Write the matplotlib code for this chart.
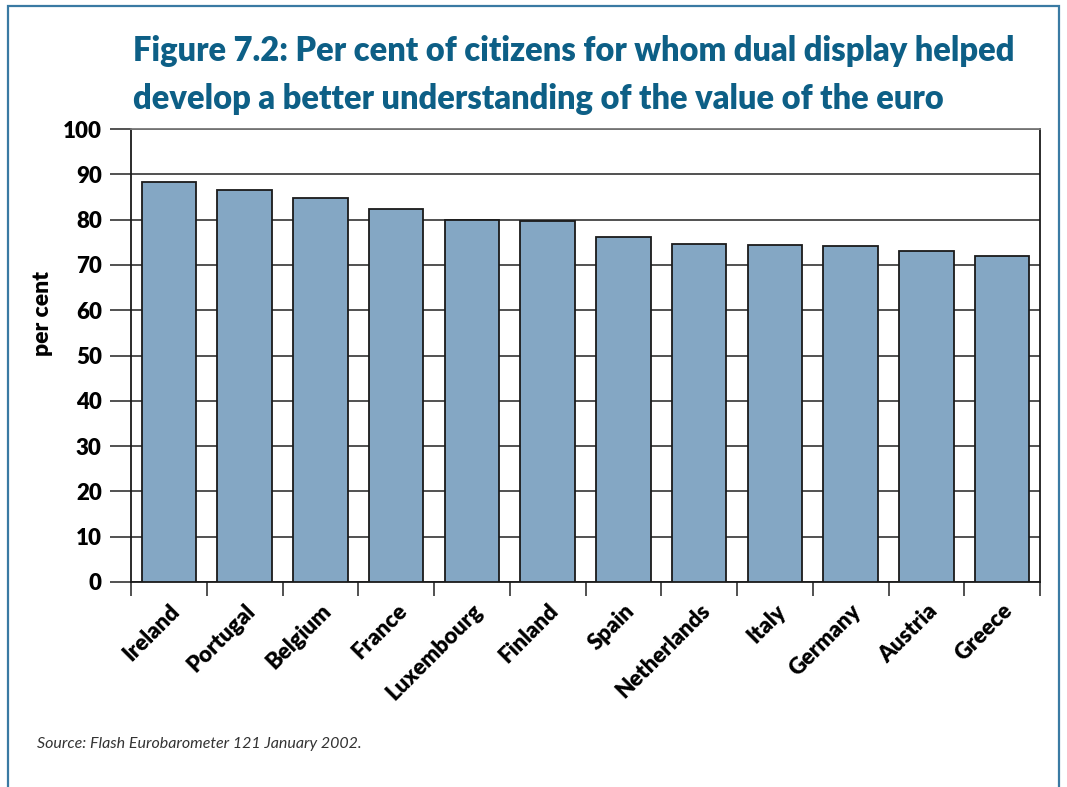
import matplotlib.pyplot as plt
import matplotlib.patches as mpatches

countries = ['Ireland', 'Portugal', 'Belgium', 'France', 'Luxembourg', 'Finland',
             'Spain', 'Netherlands', 'Italy', 'Germany', 'Austria', 'Greece']
values = [88.3, 86.5, 84.8, 82.3, 79.9, 79.7, 76.2, 74.6, 74.4, 74.2, 73.1, 72.0]
yticks = [0, 10, 20, 30, 40, 50, 60, 70, 80, 90, 100]

title = ('Figure 7.2: Per cent of citizens for whom dual display helped\n'
         'develop a better understanding of the value of the euro')
source = 'Source: Flash Eurobarometer 121 January 2002.'

plt.rcParams['font.family'] = ['Lato', 'DejaVu Sans']

fig = plt.figure(figsize=(10.67, 7.87), dpi=100)
ax = fig.add_axes([0.1228, 0.2605, 0.8519, 0.5755])

# blue frame around the whole figure
frame = mpatches.Rectangle((0.0075, -0.05), 0.985, 1.042, transform=fig.transFigure,
                           fill=False, edgecolor='#3a7aa3', linewidth=1.6)
fig.patches.append(frame)

x = range(len(countries))
ax.bar(x, values, width=0.72, color='#84a7c4', edgecolor='#1a1a1a', linewidth=1.3, zorder=3)

ax.set_xlim(-0.5, len(countries) - 0.5)
ax.set_ylim(0, 100)
ax.set_yticks(yticks)
ax.set_yticklabels([str(v) for v in yticks], fontsize=16, fontweight='heavy')
ax.yaxis.grid(True, color='#333333', linewidth=1.2, zorder=0)
ax.tick_params(axis='y', length=15, width=1.2, color='#333333', pad=6)

# x ticks sit between the categories
ax.set_xticks([i - 0.5 for i in range(len(countries) + 1)], minor=False)
ax.set_xticklabels([''] * (len(countries) + 1))
ax.tick_params(axis='x', length=10, width=1.2, color='#333333')
ax.set_xticks(list(x), minor=True)
ax.set_xticklabels(countries, minor=True, rotation=45, ha='right',
                   rotation_mode='anchor', fontsize=16, fontweight='heavy')
ax.tick_params(axis='x', which='minor', length=0, pad=13)

for s in ['left', 'right', 'bottom']:
    ax.spines[s].set_color('#1a1a1a')
    ax.spines[s].set_linewidth(1.3)
ax.spines['top'].set_color('#777777')
ax.spines['top'].set_linewidth(1.3)

# y label sits a little above the axis middle, as in the original
fig.text(0.040, 0.602, 'per cent', fontsize=16.5, fontweight='heavy',
         rotation=90, ha='center', va='center')

fig.text(0.1245, 0.956, title, fontsize=23.5, fontweight='heavy', color='#0d5f86',
         va='top', ha='left', linespacing=1.62)
fig.text(0.035, 0.050, source, fontsize=11.5, style='italic', color='#333333')

fig.savefig('out.png', dpi=100)
